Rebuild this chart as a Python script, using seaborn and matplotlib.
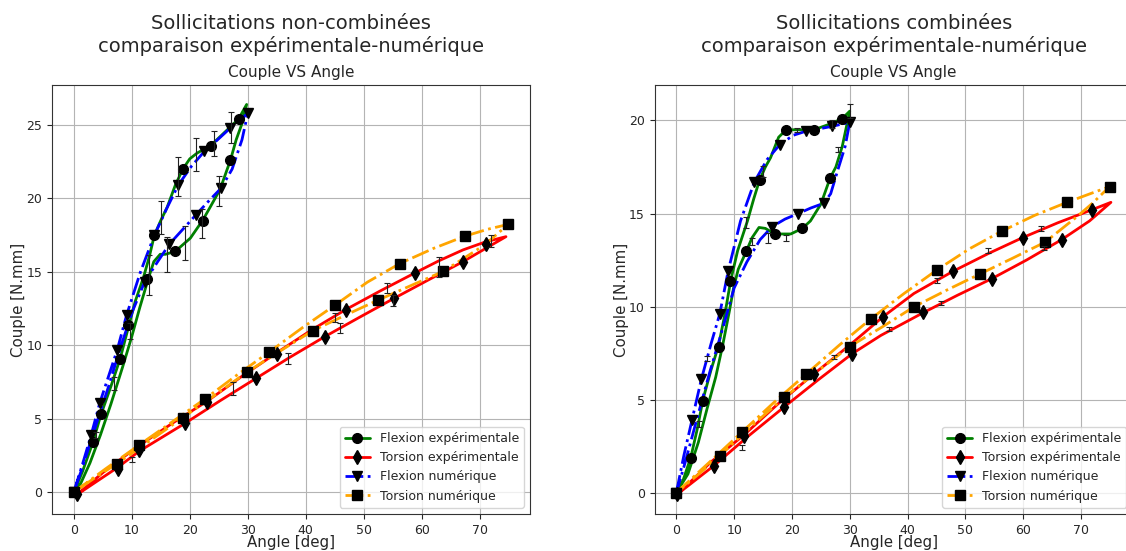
import matplotlib
matplotlib.use("Agg")
import matplotlib.pyplot as plt
import seaborn as sns
from matplotlib.lines import Line2D


# ---------------- Sollicitations non-combinées ----------------
nc_flex_exp_x = [0, 1.5, 3.3, 4.7, 6.4, 8.0, 9.4, 10.6, 12.0, 13.0, 13.9, 15.0, 16.1, 17.5,
                 18.8, 20.0, 21.3, 23.6, 26.0, 28.4, 29.8, 29.0, 28.0, 27.0, 25.2, 23.5,
                 22.2, 20.1, 17.5, 15.8, 14.9, 13.8, 12.9, 11.4, 10.0, 8.4, 6.4, 4.6, 2.8, 1.2, 0]
nc_flex_exp_y = [0, 1.4, 3.4, 5.3, 7.2, 9.1, 11.2, 13.0, 14.6, 16.0, 17.5, 18.5, 19.4, 20.9,
                 22.0, 22.7, 23.1, 23.6, 24.5, 25.4, 26.4, 25.1, 24.0, 22.6, 20.6, 19.4,
                 18.5, 17.3, 16.4, 16.2, 16.2, 15.7, 14.6, 12.6, 10.6, 8.5, 6.0, 3.9, 2.0, 0.6, 0]
nc_flex_exp_mx = [0, 3.3, 4.7, 8.0, 9.4, 12.6, 13.9, 18.8, 23.6, 28.4, 27.0, 22.2, 17.5]
nc_flex_exp_my = [0, 3.4, 5.3, 9.1, 11.4, 14.55, 17.5, 22.0, 23.6, 25.4, 22.65, 18.5, 16.4]
nc_flex_err_x = [3.75, 6.9, 9.75, 12.9, 15.1, 18.0, 21.1, 24.1, 27.1, 25.0, 22.1, 19.1, 16.0]
nc_flex_err_y = [3.9, 7.4, 11.0, 14.8, 18.7, 21.5, 23.0, 23.75, 24.85, 20.5, 18.3, 16.95, 16.2]
nc_flex_err = [0.2, 0.45, 0.55, 1.35, 1.1, 1.3, 1.1, 0.85, 1.05, 1.0, 1.0, 1.15, 1.2]

nc_tors_exp_x = [0.6, 7.6, 11.3, 19.2, 25.3, 31.4, 37.3, 43.3, 49.2, 55.2, 61.1, 67.1, 71.0,
                 74.5, 71.0, 67.1, 62.9, 58.8, 52.8, 46.9, 41.0, 35.0, 29.0, 23.0, 17.0,
                 11.0, 5.5, 0.6]
nc_tors_exp_y = [-0.15, 1.7, 2.8, 4.7, 6.25, 7.75, 9.2, 10.6, 11.9, 13.2, 14.45, 15.7, 16.6,
                 17.4, 17.05, 16.5, 15.75, 14.93, 13.7, 12.44, 11.05, 9.5, 7.9, 6.2, 4.7,
                 3.1, 1.5, -0.15]
nc_tors_exp_mx = [0.6, 7.6, 11.3, 19.2, 23.0, 31.4, 35.0, 43.3, 46.9, 55.2, 58.8, 67.1, 71.0]
nc_tors_exp_my = [-0.15, 1.6, 2.86, 4.7, 6.15, 7.8, 9.44, 10.6, 12.44, 13.2, 14.93, 15.7, 16.9]
nc_tors_err_x = [10.05, 27.5, 37.0, 45.0, 45.9, 54.0, 55.1, 63.0, 71.9]
nc_tors_err_y = [2.23, 7.05, 9.1, 11.9, 11.2, 13.9, 13.05, 15.35, 17.1]
nc_tors_err = [0.17, 0.45, 0.35, 0.3, 0.35, 0.35, 0.35, 0.7, 0.4]

nc_flex_num_x = [0, 1.5, 3.0, 4.5, 7.5, 9.1, 11.5, 13.9, 16.0, 18.0, 20.3, 22.5, 24.8, 27.0,
                 30.0, 29.0, 27.3, 25.4, 23.2, 21.1, 18.8, 16.5, 14.3, 12.2, 10.1, 8.1,
                 6.0, 3.6, 1.5, 0]
nc_flex_num_y = [0, 1.9, 3.9, 6.1, 9.7, 12.05, 15.0, 17.5, 19.3, 20.9, 22.2, 23.2, 24.0, 24.8,
                 25.8, 24.0, 22.0, 20.7, 19.8, 18.9, 17.9, 16.9, 15.6, 14.3, 12.3, 9.9,
                 7.2, 4.3, 1.7, 0]
nc_flex_num_mx = [0, 3.0, 4.5, 7.5, 9.1, 13.9, 18.0, 22.5, 27.0, 30.0, 25.4, 21.1, 16.5, 12.2]
nc_flex_num_my = [0, 3.9, 6.1, 9.7, 12.05, 17.5, 20.9, 23.2, 24.8, 25.8, 20.7, 18.9, 16.9, 14.3]

nc_tors_num_x = [0, 5.5, 11.2, 17.0, 22.7, 28.2, 33.7, 39.4, 45.0, 50.6, 56.2, 62.0, 67.4,
                 71.3, 74.9, 71.0, 69.3, 63.7, 58.0, 52.4, 46.8, 41.2, 35.5, 29.9, 24.3,
                 18.8, 13.1, 7.45, 3.7, 0]
nc_tors_num_y = [0, 1.6, 3.2, 4.8, 6.38, 8.0, 9.55, 11.2, 12.73, 14.3, 15.57, 16.6, 17.43,
                 17.9, 18.24, 16.9, 16.45, 15.04, 14.05, 13.07, 12.05, 11.0, 9.6, 8.19, 6.6,
                 5.08, 3.5, 1.95, 1.0, 0]
nc_tors_num_mx = [0, 11.2, 22.7, 33.7, 45.0, 56.2, 67.4, 74.9, 63.7, 52.4, 41.2, 29.9, 18.8, 7.45]
nc_tors_num_my = [0, 3.2, 6.38, 9.55, 12.73, 15.57, 17.43, 18.24, 15.04, 13.07, 11.0, 8.19, 5.08, 1.95]


# ---------------- Sollicitations combinées ----------------
c_flex_exp_x = [0, 1.2, 2.5, 3.6, 4.6, 6.0, 7.3, 8.4, 9.4, 10.6, 12.3, 13.4, 14.4, 15.4, 16.3,
                17.7, 19.0, 20.9, 23.8, 26.5, 28.7, 30.0, 28.7, 27.6, 26.6, 25.0, 23.2, 21.8,
                19.8, 17.0, 15.4, 14.3, 13.1, 12.1, 10.7, 9.9, 9.2, 8.0, 6.8, 5.3, 3.8, 2.0, 0]
c_flex_exp_y = [0, 0.7, 1.9, 3.4, 5.0, 6.6, 7.9, 9.6, 11.4, 13.0, 14.6, 15.8, 16.8, 17.5, 18.0,
                19.1, 19.5, 19.5, 19.5, 19.8, 20.1, 20.5, 18.6, 17.5, 16.9, 15.5, 14.6, 14.2,
                13.9, 13.9, 14.2, 14.25, 13.7, 12.97, 12.0, 11.0, 9.8, 7.9, 6.2, 4.5, 2.7, 1.0, 0]
c_flex_exp_mx = [0, 2.5, 4.6, 7.33, 9.36, 12.1, 14.4, 17.0, 19.0, 21.8, 23.8, 26.6, 28.7]
c_flex_exp_my = [0, 1.86, 4.95, 7.85, 11.36, 12.97, 16.8, 13.9, 19.5, 14.2, 19.5, 16.9, 20.1]
c_flex_err_x = [4.0, 5.3, 12.1, 13.0, 15.0, 15.8, 18.9, 20.9, 27.0, 28.0, 30.0]
c_flex_err_y = [3.7, 7.2, 14.5, 13.5, 17.25, 13.7, 13.7, 19.5, 19.8, 18.45, 20.5]
c_flex_err = [0.15, 0.15, 0.3, 0.2, 0.3, 0.27, 0.17, 0.1, 0.2, 0.15, 0.36]

c_tors_exp_x = [0.1, 6.5, 12.5, 18.6, 24.5, 30.4, 35.4, 42.6, 48.6, 54.6, 60.6, 66.7, 71.5,
                75.2, 71.9, 66.0, 59.9, 54.0, 47.9, 41.1, 35.8, 29.9, 23.8, 17.7, 11.7, 6.0,
                2.5, 0.1]
c_tors_exp_y = [-0.1, 1.45, 3.05, 4.59, 6.05, 7.46, 8.45, 9.65, 10.6, 11.5, 12.5, 13.6, 14.6,
                15.6, 15.2, 14.5, 13.7, 12.85, 11.9, 10.7, 9.46, 7.9, 6.38, 4.8, 3.1, 1.65,
                0.6, -0.1]
c_tors_exp_mx = [0.1, 6.5, 11.7, 18.6, 23.8, 30.4, 35.8, 42.6, 47.9, 54.6, 59.9, 66.7, 71.9]
c_tors_exp_my = [-0.1, 1.45, 3.06, 4.59, 6.38, 7.46, 9.46, 9.7, 11.9, 11.5, 13.7, 13.6, 15.2]
c_tors_err_x = [11.4, 27.3, 36.8, 45.1, 45.8, 54.0, 63.1, 63.7]
c_tors_err_y = [2.43, 7.3, 8.8, 11.4, 10.2, 13.0, 14.2, 13.15]
c_tors_err = [0.12, 0.12, 0.12, 0.12, 0.12, 0.12, 0.12, 0.12]

c_flex_num_x = [0, 1.3, 2.7, 4.33, 6.0, 7.5, 8.95, 11.1, 13.5, 15.7, 17.9, 20.2, 22.5, 24.7,
                26.9, 30.0, 29.2, 27.9, 26.7, 25.5, 23.3, 21.1, 18.8, 16.6, 14.5, 12.2, 10.0,
                8.0, 5.8, 3.5, 1.5, 0]
c_flex_num_y = [0, 2.0, 3.9, 6.1, 8.0, 9.6, 11.9, 14.6, 16.7, 17.9, 18.7, 19.2, 19.43, 19.55,
                19.68, 19.9, 18.6, 17.3, 16.06, 15.55, 15.3, 15.0, 14.7, 14.3, 13.6, 12.4, 11.0,
                8.8, 6.5, 3.9, 1.6, 0]
c_flex_num_mx = [0, 2.7, 4.33, 7.5, 8.95, 13.5, 17.9, 22.5, 26.9, 30.0, 25.5, 21.1, 16.6]
c_flex_num_my = [0, 3.9, 6.1, 9.6, 11.9, 16.7, 18.7, 19.43, 19.68, 19.9, 15.55, 15.0, 14.3]

c_tors_num_x = [0, 5.6, 11.3, 16.9, 22.5, 28.1, 33.7, 39.4, 45.1, 50.7, 56.3, 62.0, 67.6,
                71.5, 75.0, 72.0, 69.4, 63.8, 58.2, 52.6, 46.9, 41.2, 35.6, 30.0, 24.3, 18.7,
                13.1, 7.5, 3.7, 0]
c_tors_num_y = [0, 1.6, 3.24, 4.85, 6.38, 7.9, 9.35, 10.7, 11.97, 13.1, 14.05, 14.9, 15.6,
                16.05, 16.45, 15.55, 14.85, 13.46, 12.6, 11.76, 10.9, 10.0, 8.9, 7.85, 6.5,
                5.12, 3.6, 1.99, 0.95, 0]
c_tors_num_mx = [0, 11.3, 22.5, 33.7, 45.1, 56.3, 67.6, 75.0, 63.8, 52.6, 41.2, 30.0, 18.7, 7.5]
c_tors_num_my = [0, 3.24, 6.38, 9.35, 11.97, 14.05, 15.6, 16.45, 13.46, 11.76, 10.0, 7.85, 5.12, 1.99]


labels = ["Flexion expérimentale", "Torsion expérimentale",
          "Flexion numérique", "Torsion numérique"]
colors = ["green", "red", "blue", "orange"]
styles = ["-", "-", "-.", "-."]
markers = ["o", "d", "v", "s"]


def draw_panel(ax, title, curves, marks, errors):
    # curves / marks in legend order: flex exp, tors exp, flex num, tors num
    for (cx, cy), (mx, my), col, ls, mk in zip(curves, marks, colors, styles, markers):
        sns.lineplot(x=cx, y=cy, sort=False, estimator=None, color=col,
                     linewidth=2, linestyle=ls, ax=ax)
        ax.plot(mx, my, linestyle="none", marker=mk, markersize=7,
                markerfacecolor="black", markeredgecolor="black", zorder=4)

    for ex, ey, ee in errors:
        ax.errorbar(ex, ey, yerr=ee, fmt="none", ecolor="#222222",
                    elinewidth=0.8, capsize=2, capthick=0.8, zorder=5)

    handles = [
        Line2D([], [], color=c, linestyle=ls, linewidth=2, marker=m, markersize=7,
               markerfacecolor="black", markeredgecolor="black")
        for c, ls, m in zip(colors, styles, markers)
    ]
    ax.legend(handles, labels, loc="lower right", fontsize=9, framealpha=0.8)

    ax.set_title("Couple VS Angle", fontsize=11)
    ax.text(0.5, 1.117, title, transform=ax.transAxes, ha="center",
            va="center", fontsize=14)
    ax.set_xlabel("Angle [deg]", fontsize=10.8, labelpad=-1.5)
    ax.set_ylabel("Couple [N.mm]", fontsize=10.8, labelpad=0)
    ax.tick_params(labelsize=9)
    ax.set_xticks([0, 10, 20, 30, 40, 50, 60, 70])


sns.set_style("ticks", {"axes.grid": True, "grid.color": "#b4b4b4",
                        "axes.edgecolor": "#333333"})
plt.rcParams["font.family"] = ["DejaVu Sans"]

fig = plt.figure(figsize=(11.26, 5.51), dpi=100)
ax1 = fig.add_axes([0.0462, 0.0672, 0.4245, 0.7786])
ax2 = fig.add_axes([0.5814, 0.0672, 0.4245, 0.7786])

draw_panel(
    ax1,
    "Sollicitations non-combinées\ncomparaison expérimentale-numérique",
    [(nc_flex_exp_x, nc_flex_exp_y), (nc_tors_exp_x, nc_tors_exp_y),
     (nc_flex_num_x, nc_flex_num_y), (nc_tors_num_x, nc_tors_num_y)],
    [(nc_flex_exp_mx, nc_flex_exp_my), (nc_tors_exp_mx, nc_tors_exp_my),
     (nc_flex_num_mx, nc_flex_num_my), (nc_tors_num_mx, nc_tors_num_my)],
    [(nc_flex_err_x, nc_flex_err_y, nc_flex_err),
     (nc_tors_err_x, nc_tors_err_y, nc_tors_err)],
)

draw_panel(
    ax2,
    "Sollicitations combinées\ncomparaison expérimentale-numérique",
    [(c_flex_exp_x, c_flex_exp_y), (c_tors_exp_x, c_tors_exp_y),
     (c_flex_num_x, c_flex_num_y), (c_tors_num_x, c_tors_num_y)],
    [(c_flex_exp_mx, c_flex_exp_my), (c_tors_exp_mx, c_tors_exp_my),
     (c_flex_num_mx, c_flex_num_my), (c_tors_num_mx, c_tors_num_my)],
    [(c_flex_err_x, c_flex_err_y, c_flex_err),
     (c_tors_err_x, c_tors_err_y, c_tors_err)],
)

fig.savefig("out.png", dpi=100)
